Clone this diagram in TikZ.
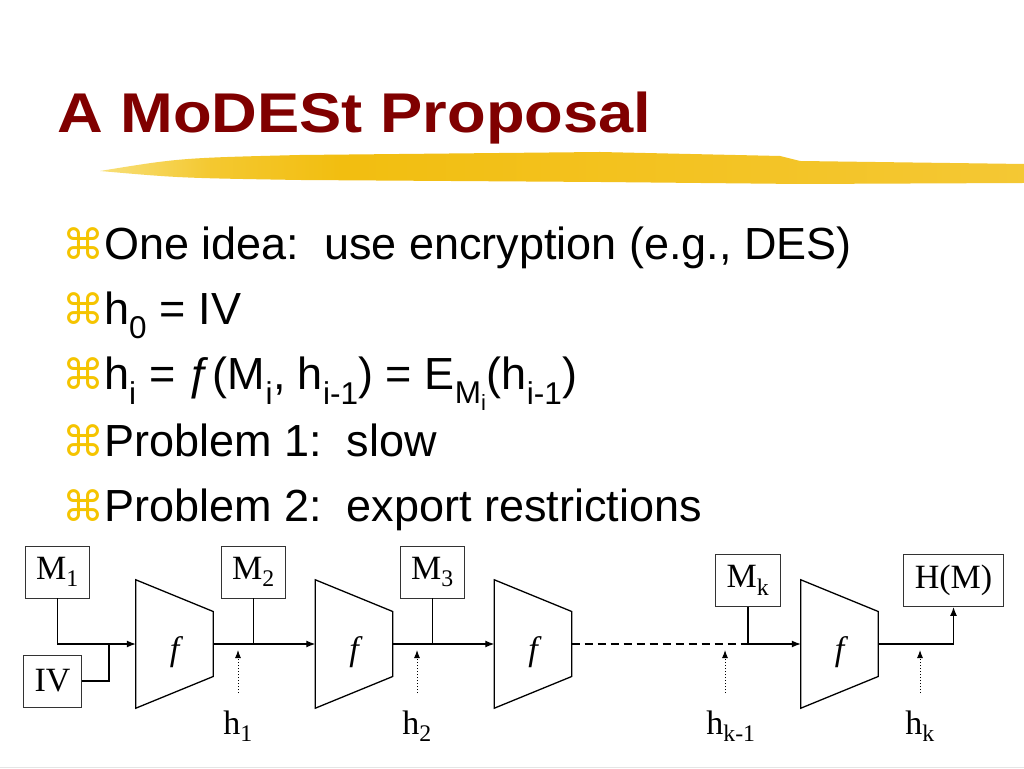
\documentclass[tikz,border=0pt]{standalone}
\usepackage{fontspec}
\setmainfont{Liberation Serif}
\newfontfamily\titlefont{Liberation Sans}[FakeStretch=1.13]
\newfontfamily\bodyfont{Liberation Sans}
\newfontfamily\symfont{DejaVu Sans}
\newfontfamily\fnfont{Liberation Serif Italic}
\usepackage{tikz}
\usetikzlibrary{arrows.meta,positioning,calc}
\definecolor{titlered}{HTML}{800000}
\definecolor{bulletgold}{HTML}{F5C400}
\definecolor{brushgold}{HTML}{F2BE10}
\definecolor{brushpale}{HTML}{F8E07A}
\pgfdeclarehorizontalshading{brush}{100bp}{color(0bp)=(brushpale); color(25bp)=(brushpale);
  color(31bp)=(brushgold!70!brushpale); color(38bp)=(brushgold); color(75bp)=(brushgold!85!white);
  color(100bp)=(brushgold!85!white)}
\newcommand{\diag}{\fontsize{34}{38}\selectfont}
\newcommand{\bodysize}{\bodyfont\fontsize{45}{50}\selectfont}
\newcommand{\bul}{{\color{bulletgold}\symfont\fontsize{42}{46}\selectfont ⌘}}
\frenchspacing

\begin{document}
\begin{tikzpicture}[x=1pt, y=1pt,
  box/.style={draw=black!80, line width=0.9pt, font=\diag, minimum height=52, inner xsep=11pt, inner ysep=0pt},
  fblock/.style={minimum width=77, minimum height=128, inner sep=0pt,
                 label={[font=\fnfont\diag, yshift=-8pt]center:f}},
  wire/.style={line width=1.3pt},
  tip/.style={-{Latex[length=9pt,width=7pt]}},
  hin/.style={line width=1pt, dotted, -{Latex[length=8pt,width=6pt]}, shorten >=6pt},
  hlabel/.style={font=\diag, anchor=base, inner sep=0pt},
  item/.style={font=\bodysize, anchor=base west, inner sep=0pt}]
\useasboundingbox (0,0) rectangle (1024,768);
\fill[white] (0,0) rectangle (1024,768);

% title and brush stroke
\node[anchor=base west, inner sep=0pt, text=titlered, font=\titlefont\bfseries\fontsize{56}{60}\selectfont]
  (title) at (57,635) {A MoDESt Proposal};
\shade[shading=brush] (100,597) .. controls (180,610) .. (300,613) -- (600,616) -- (780,612)
  -- (800,607) -- (1024,604) -- (1024,585) -- (800,584) -- (600,586) -- (300,588)
  .. controls (180,590) .. (100,597) -- cycle;

% bullet list
\node[item] (i1) at (62,508) {\bul One idea:\ \ use encryption (e.g., DES)};
\node[item] (i2) at (62,443) {\bul h\textsubscript{0} = IV};
\node[item] (i3) at (62,378) {\bul h\textsubscript{i} = ƒ(M\textsubscript{i}, h\textsubscript{i-1}) = E\textsubscript{M\textsubscript{i}}(h\textsubscript{i-1})};
\node[item] (i4) at (62,311) {\bul Problem 1:\ \ slow};
\node[item] (i5) at (62,246) {\bul Problem 2:\ \ export restrictions};

% chain
\node[box] (m1) at (57.5,196) {M\textsubscript{1}};
\node[box] (iv) at (52.5,87) {IV};
\node[fblock] (f1) at (174.5,124) {};
\node[box] (m2) at (253.5,196) {M\textsubscript{2}};
\node[fblock] (f2) at (354,124) {};
\node[box] (m3) at (432.5,196) {M\textsubscript{3}};
\node[fblock] (f3) at (533,124) {};
\node[box] (mk) at (748,187.5) {M\textsubscript{k}};
\node[fblock] (f4) at (839.5,124) {};
\node[box] (hm) at (953.5,187.5) {H(M)};

\foreach \n in {f1,f2,f3,f4}
  \draw[wire] (\n.north west) -- ($(\n.east)+(0,32.5)$) -- ($(\n.east)+(0,-32.5)$) -- (\n.south west) -- cycle;

\coordinate (j0) at (109,124);
\coordinate (jk) at (mk |- f1);
\draw[wire,tip] (m1) |- (f1);
\draw[wire] (iv) -| (j0);
\draw[wire,tip] (f1) -- (f2);
\draw[wire] (m2) -- (m2 |- f1);
\draw[wire,tip] (f2) -- (f3);
\draw[wire] (m3) -- (m3 |- f1);
\draw[wire,dash pattern=on 8pt off 5pt] (f3) -- (jk);
\draw[wire] (mk) -- (jk);
\draw[wire,tip] (jk) -- (f4);
\draw[wire,tip] (f4) -| (hm);

% chaining values
\node[hlabel] (h1) at (238,34) {h\textsubscript{1}};
\node[hlabel] (h2) at (417,34) {h\textsubscript{2}};
\node[hlabel] (hkm) at (731,34) {h\textsubscript{k-1}};
\node[hlabel] (hk) at (920,34) {h\textsubscript{k}};
\foreach \h/\dx in {h1/0,h2/0,hkm/-6,hk/0}
  \draw[hin] ([xshift=\dx pt, yshift=17pt]\h.north) -- ([xshift=\dx pt]\h.north |- f1);

\draw[black!10] (0,1) -- (1024,1);
\end{tikzpicture}
\end{document}
